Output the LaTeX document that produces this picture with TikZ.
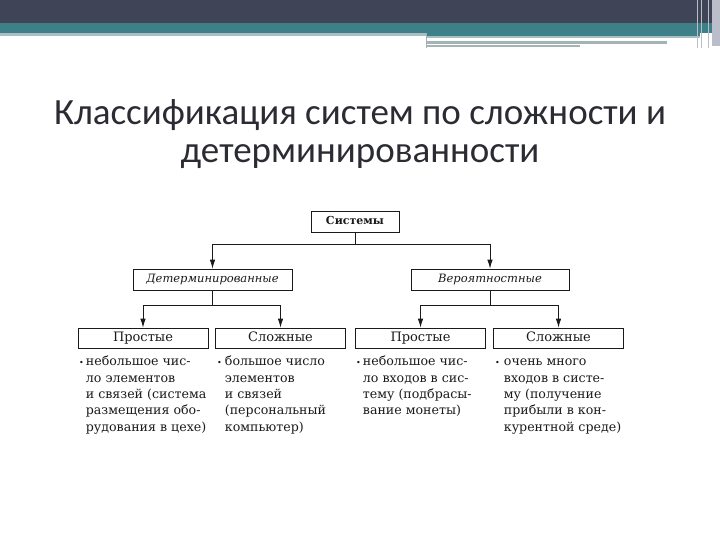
\documentclass[tikz,border=0pt]{standalone}
\usepackage{fontspec}
\setmainfont{DejaVu Serif}
\newfontfamily\titlefont{Carlito}
\usetikzlibrary{arrows.meta,calc}
\definecolor{topbar}{HTML}{3F4456}
\definecolor{teal}{HTML}{3E8088}
\definecolor{strip}{HTML}{A9BEC3}
\definecolor{gline}{HTML}{A4B3B4}
\definecolor{sidecol}{HTML}{BCBDCB}
\definecolor{titlegray}{HTML}{2B2B33}
\definecolor{ink}{HTML}{1A1A1A}
\newcommand{\bul}{{\fontsize{8}{8}\selectfont\textbullet}}

\begin{document}
\begin{tikzpicture}[x=1pt,y=-1pt,
    box/.style={draw=ink, line width=0.8pt, inner sep=0pt, minimum height=21,
      text=ink, text height=9pt, text depth=2.5pt, font=\fontsize{13}{15}\selectfont},
    leaf/.style={box, minimum width=130, minimum height=20},
    link/.style={draw=ink, line width=0.8pt},
    down/.style={link, -{Latex[length=9pt,width=5.5pt]}},
    list/.style={anchor=north west, inner sep=0pt, align=left, text=ink,
      font=\fontsize{12.6}{16.4}\selectfont}]
  %%%%% HEADER %%%%%
  \useasboundingbox (0,0) rectangle (720,540);
  \fill[topbar] (0,0) rectangle (720,23);
  \fill[teal] (0,23) rectangle (720,33);
  \fill[strip] (0,33) rectangle (426,36);
  \fill[teal] (426,33) rectangle (700,36);
  \fill[strip] (426,36) rectangle (700,38);
  \fill[gline] (426,41) rectangle (667,44);
  \fill[gline] (426,45.5) rectangle (580,47.5);
  \draw[gline] (426,33) -- (426,48);
  \fill[sidecol] (712,0) rectangle (720,46);
  \draw[sidecol, line width=1pt] (697,0) -- (697,48);
  \draw[sidecol, line width=1pt] (701,0) -- (701,48);
  \draw[sidecol, line width=1pt] (708,0) -- (708,48);

  %%%%% TITLE %%%%%
  \node[anchor=north, inner sep=0pt, align=center, text=titlegray,
    font=\titlefont\fontsize{37}{38}\selectfont] (title) at (360,99)
    {Классификация систем по сложности и\\детерминированности};

  %%%%% BOXES %%%%%
  \node[box, minimum width=88, font=\fontsize{11}{13}\selectfont\bfseries] (sys) at (355,221.5) {Системы};
  \node[box, minimum width=159, font=\fontsize{11.5}{14}\selectfont\itshape] (det) at (212.5,279.5) {Детерминированные};
  \node[box, minimum width=158, font=\fontsize{11.5}{14}\selectfont\itshape] (ver) at (490,279.5) {Вероятностные};

  \node[leaf] (p1) at (143,338) {Простые};
  \node[leaf] (s1) at (280.5,338) {Сложные};
  \node[leaf] (p2) at (420.5,338) {Простые};
  \node[leaf] (s2) at (558.5,338) {Сложные};

  %%%%% LINKS %%%%%
  \draw[link] (sys.south) -- ++(0,12) coordinate (j0);
  \draw[down] (j0) -| (det.north);
  \draw[down] (j0) -| (ver.north);

  \draw[link] (det.south) -- ++(0,15) coordinate (j1);
  \draw[down] (j1) -| (p1.north);
  \draw[down] (j1) -| (s1.north);

  \draw[link] (ver.south) -- ++(0,15) coordinate (j2);
  \draw[down] (j2) -| (p2.north);
  \draw[down] (j2) -| (s2.north);

  %%%%% LISTS %%%%%
  \node[list] (t1) at (79,354) {\begin{tabular}{@{}l@{\hspace{2pt}}l@{}}
    \bul & небольшое чис-\\ & ло элементов\\ & и связей (система\\
    & размещения обо-\\ & рудования в цехе)\end{tabular}};
  \node[list] (t2) at (217,354) {\begin{tabular}{@{}l@{\hspace{3pt}}l@{}}
    \bul & большое число\\ & элементов\\ & и связей\\
    & (персональный\\ & компьютер)\end{tabular}};
  \node[list] (t3) at (356,354) {\begin{tabular}{@{}l@{\hspace{2pt}}l@{}}
    \bul & небольшое чис-\\ & ло входов в сис-\\ & тему (подбрасы-\\
    & вание монеты)\end{tabular}};
  \node[list] (t4) at (495,354) {\begin{tabular}{@{}l@{\hspace{4pt}}l@{}}
    \bul & очень много\\ & входов в систе-\\ & му (получение\\
    & прибыли в кон-\\ & курентной среде)\end{tabular}};
\end{tikzpicture}
\end{document}
